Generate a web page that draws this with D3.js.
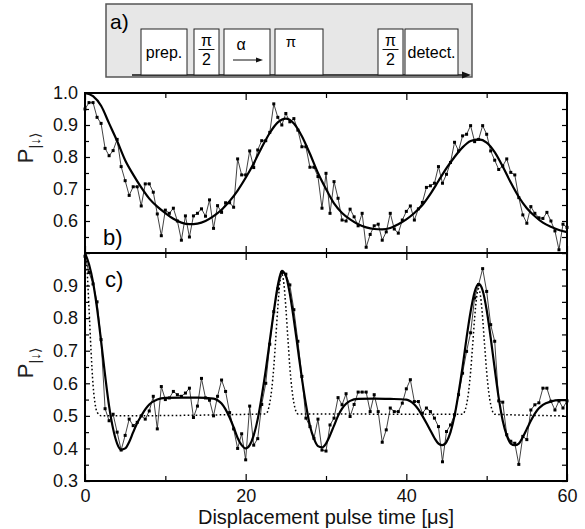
<!DOCTYPE html>
<html lang="en">
<head>
<meta charset="UTF-8">
<title>Displacement pulse scan</title>
<script src="https://d3js.org/d3.v7.min.js"></script>
<style>
  body { margin: 0; background: #fff; }
  svg { font-family: "Liberation Sans", Arial, sans-serif; }
  .tick text { font-size: 18px; fill: #111; }
  .tick line { stroke: #000; stroke-width: 1.2px; }
  .domain { display: none; }
</style>
</head>
<body>
<svg id="chart" width="585" height="529"></svg>
<script>
// sample times of the measured points (every 0.5 us)
const sampleTime = d3.range(0, 60.001, 0.5);

// panel b) measured P(down)
const dataB = [
  0.95, 0.97, 0.97, 0.924, 0.905, 0.827, 0.804, 0.82, 0.855, 0.77,
  0.726, 0.68, 0.707, 0.707, 0.647, 0.716, 0.716, 0.69, 0.622, 0.554,
  0.634, 0.624, 0.64, 0.60, 0.54, 0.616, 0.55, 0.616, 0.624, 0.638,
  0.615, 0.666, 0.577, 0.648, 0.627, 0.657, 0.657, 0.643, 0.794, 0.744,
  0.744, 0.819, 0.767, 0.822, 0.851, 0.851, 0.877, 0.966, 0.924, 0.90,
  0.936, 0.91, 0.92, 0.884, 0.832, 0.832, 0.768, 0.768, 0.739, 0.64,
  0.749, 0.624, 0.723, 0.671, 0.603, 0.60, 0.637, 0.613, 0.585, 0.624,
  0.518, 0.558, 0.585, 0.59, 0.54, 0.566, 0.624, 0.575, 0.562, 0.603,
  0.63, 0.647, 0.603, 0.638, 0.658, 0.705, 0.71, 0.718, 0.77, 0.718,
  0.746, 0.783, 0.846, 0.819, 0.866, 0.871, 0.898, 0.848, 0.855, 0.898,
  0.871, 0.819, 0.79, 0.761, 0.772, 0.794, 0.752, 0.744, 0.673, 0.619,
  0.593, 0.645, 0.624, 0.61, 0.608, 0.627, 0.60, 0.569, 0.51, 0.59,
  0.58
];

// panel b) fit, read every 1 us
const fitBTime = d3.range(0, 60.001, 1);
const fitB = [
  1.0, 0.99, 0.96, 0.905, 0.85, 0.79, 0.745, 0.705, 0.67, 0.645,
  0.625, 0.607, 0.595, 0.59, 0.592, 0.60, 0.615, 0.635, 0.662, 0.695,
  0.735, 0.78, 0.83, 0.875, 0.908, 0.92, 0.905, 0.865, 0.81, 0.75,
  0.70, 0.655, 0.625, 0.605, 0.59, 0.58, 0.575, 0.574, 0.578, 0.59,
  0.605, 0.625, 0.65, 0.685, 0.725, 0.765, 0.80, 0.83, 0.85, 0.855,
  0.845, 0.815, 0.77, 0.72, 0.675, 0.64, 0.615, 0.595, 0.582, 0.572,
  0.565
];

// panel c) measured P(down)
const dataC = [
  0.99, 0.94, 0.905, 0.85, 0.734, 0.522, 0.485, 0.505, 0.45, 0.395,
  0.44, 0.49, 0.47, 0.48, 0.50, 0.49, 0.515, 0.56, 0.46, 0.59,
  0.55, 0.555, 0.575, 0.565, 0.56, 0.57, 0.585, 0.495, 0.53, 0.615,
  0.555, 0.548, 0.50, 0.56, 0.61, 0.575, 0.51, 0.46, 0.40, 0.445,
  0.365, 0.53, 0.41, 0.43, 0.535, 0.60, 0.72, 0.82, 0.89, 0.94,
  0.935, 0.902, 0.826, 0.729, 0.621, 0.493, 0.467, 0.431, 0.49, 0.395,
  0.392, 0.472, 0.493, 0.556, 0.534, 0.568, 0.498, 0.535, 0.573, 0.573,
  0.573, 0.513, 0.565, 0.513, 0.419, 0.457, 0.524, 0.513, 0.513, 0.539,
  0.583, 0.611, 0.544, 0.544, 0.508, 0.524, 0.513, 0.493, 0.467, 0.359,
  0.452, 0.472, 0.503, 0.565, 0.631, 0.698, 0.755, 0.862, 0.903, 0.952,
  0.882, 0.78, 0.729, 0.546, 0.542, 0.442, 0.422, 0.416, 0.351, 0.437,
  0.427, 0.518, 0.534, 0.54, 0.585, 0.585, 0.545, 0.518, 0.546, 0.524,
  0.546
];

// panel c) fit (solid thick)
const fitCTime = [
  0, 0.5, 1, 1.5, 2, 2.5, 3, 3.5, 4, 4.5, 5, 5.5, 6, 6.5, 7, 7.5, 8, 9, 10, 12,
  14, 16, 16.5, 17, 17.5, 18, 18.5, 19, 19.5, 20, 20.5, 21, 21.5, 22, 22.5, 23,
  23.5, 24, 24.5, 25, 25.5, 26, 26.5, 27, 27.5, 28, 28.5, 29, 29.5, 30, 30.5, 31,
  31.5, 32, 32.5, 33, 34, 36, 38, 40, 40.5, 41, 41.5, 42, 42.5, 43, 43.5, 44,
  44.5, 45, 45.5, 46, 46.5, 47, 47.5, 48, 48.5, 49, 49.5, 50, 50.5, 51, 51.5,
  52, 52.5, 53, 53.5, 54, 54.5, 55, 55.5, 56, 56.5, 57, 58, 59, 60
];
const fitC = [
  1.0, 0.965, 0.91, 0.83, 0.73, 0.625, 0.53, 0.46, 0.415, 0.396, 0.40, 0.42, 0.45,
  0.478, 0.50, 0.52, 0.535, 0.55, 0.555, 0.556,
  0.556, 0.553, 0.548, 0.538, 0.52, 0.495, 0.465, 0.432, 0.41, 0.40, 0.41, 0.44,
  0.49, 0.56, 0.64, 0.73,
  0.82, 0.90, 0.945, 0.93, 0.875, 0.795, 0.705, 0.615, 0.535, 0.47, 0.43, 0.407,
  0.403, 0.415, 0.44, 0.47,
  0.50, 0.522, 0.537, 0.546, 0.552, 0.553, 0.552, 0.55, 0.545, 0.535, 0.52, 0.50,
  0.478, 0.455, 0.432, 0.415,
  0.41, 0.42, 0.45, 0.50, 0.57, 0.65, 0.74, 0.82, 0.88, 0.905, 0.885, 0.825, 0.74,
  0.645, 0.555,
  0.485, 0.44, 0.415, 0.41, 0.415, 0.435, 0.46, 0.485, 0.507, 0.523, 0.534, 0.544,
  0.548, 0.548
];

// panel c) dotted curve
const dotTime = [
  0, 0.25, 0.5, 0.75, 1.0, 1.25, 1.5, 2.0,
  22.5, 23.0, 23.25, 23.5, 23.75, 24.0, 24.25, 24.5, 24.75, 25.0, 25.25, 25.5, 25.75, 26.0, 26.5,
  47.0, 47.5, 47.75, 48.0, 48.25, 48.5, 48.75, 49.0, 49.25, 49.5, 49.75, 50.0, 50.25, 50.5, 51.0,
  60
];
const dotC = [
  1.0, 0.95, 0.83, 0.70, 0.596, 0.538, 0.512, 0.5,
  0.506, 0.54, 0.583, 0.65, 0.739, 0.833, 0.907, 0.935, 0.907, 0.833, 0.739, 0.65, 0.583, 0.54, 0.506,
  0.505, 0.535, 0.574, 0.635, 0.715, 0.80, 0.865, 0.89, 0.865, 0.80, 0.715, 0.635, 0.574, 0.535, 0.505,
  0.5
];

const xTicks = [0, 20, 40, 60];
const xMinor = [10, 30, 50];
const yTicksB = [0.6, 0.7, 0.8, 0.9, 1.0];
const yMinorB = [0.55, 0.65, 0.75, 0.85, 0.95];
const yTicksC = [0.3, 0.4, 0.5, 0.6, 0.7, 0.8, 0.9];
const yMinorC = [0.35, 0.45, 0.55, 0.65, 0.75, 0.85, 0.95];

const svg = d3.select('#chart');

const x = d3.scaleLinear().domain([0, 60]).range([85, 567]);
const yB = d3.scaleLinear().domain([0.5, 1.0]).range([253, 93]);
const yC = d3.scaleLinear().domain([0.3, 1.0]).range([481, 253]);

// ---------- a) pulse sequence sketch ----------
const seq = svg.append('g');
seq.append('rect')
  .attr('x', 106).attr('y', 4).attr('width', 366).attr('height', 73)
  .attr('fill', '#e7e7e7').attr('stroke', '#555').attr('stroke-width', 1.5);
seq.append('text').attr('x', 110).attr('y', 29)
  .attr('font-size', 21).text('a)');

seq.append('line')
  .attr('x1', 132).attr('x2', 466).attr('y1', 75).attr('y2', 75)
  .attr('stroke', '#111').attr('stroke-width', 1.3);
seq.append('path').attr('d', 'M471,75 L462,71.5 L462,78.5 Z').attr('fill', '#111');

const boxes = [
  { x0: 141, x1: 187 }, { x0: 194, x1: 219 }, { x0: 224, x1: 270 },
  { x0: 275, x1: 323 }, { x0: 378, x1: 403 }, { x0: 405, x1: 458 }
];
seq.selectAll('rect.pulse')
  .data(boxes).enter().append('rect')
  .attr('class', 'pulse')
  .attr('x', d => d.x0).attr('y', 29)
  .attr('width', d => d.x1 - d.x0).attr('height', 46)
  .attr('fill', '#fff').attr('stroke', '#222').attr('stroke-width', 1);

seq.append('text').attr('x', 164).attr('y', 58).attr('text-anchor', 'middle')
  .attr('font-size', 16).text('prep.');
seq.append('text').attr('x', 431.5).attr('y', 58).attr('text-anchor', 'middle')
  .attr('font-size', 16).text('detect.');
seq.append('text').attr('x', 291).attr('y', 47).attr('text-anchor', 'middle')
  .attr('font-size', 15).text('π');
seq.append('text').attr('x', 241).attr('y', 50).attr('text-anchor', 'middle')
  .attr('font-size', 16).text('α');
seq.append('line').attr('x1', 233).attr('x2', 259).attr('y1', 60).attr('y2', 60)
  .attr('stroke', '#111').attr('stroke-width', 1);
seq.append('path').attr('d', 'M263,60 L256,57.5 L256,62.5 Z').attr('fill', '#111');

[206.5, 390.5].forEach(cx => {
  seq.append('text').attr('x', cx).attr('y', 46).attr('text-anchor', 'middle')
    .attr('font-size', 16).text('π');
  seq.append('line').attr('x1', cx - 8).attr('x2', cx + 8).attr('y1', 49.5).attr('y2', 49.5)
    .attr('stroke', '#111').attr('stroke-width', 1);
  seq.append('text').attr('x', cx).attr('y', 65).attr('text-anchor', 'middle')
    .attr('font-size', 16).text('2');
});

// ---------- panels ----------
function drawFrame(y, yMajor, yMinor, yLabeled, xLabels) {
  const top = y.range()[1], bottom = y.range()[0];
  const g = svg.append('g');

  g.append('g').attr('transform', `translate(85,0)`)
    .call(d3.axisLeft(y).tickValues(yMajor).tickSize(-5).tickPadding(7)
      .tickFormat(d => yLabeled.includes(d) ? d3.format('.1f')(d) : ''));
  g.append('g').attr('transform', `translate(85,0)`)
    .call(d3.axisLeft(y).tickValues(yMinor).tickSize(-4).tickFormat(''));
  g.append('g').attr('transform', `translate(567,0)`)
    .call(d3.axisRight(y).tickValues(yMajor.concat(yMinor)).tickSize(-5).tickFormat(''));

  g.append('g').attr('transform', `translate(0,${bottom})`)
    .call(d3.axisBottom(x).tickValues(xTicks).tickSize(-7).tickPadding(8)
      .tickFormat(xLabels ? d3.format('d') : ''));
  g.append('g').attr('transform', `translate(0,${bottom})`)
    .call(d3.axisBottom(x).tickValues(xMinor).tickSize(-5).tickFormat(''));
  g.append('g').attr('transform', `translate(0,${top})`)
    .call(d3.axisTop(x).tickValues(xTicks).tickSize(-7).tickFormat(''));
  g.append('g').attr('transform', `translate(0,${top})`)
    .call(d3.axisTop(x).tickValues(xMinor).tickSize(-5).tickFormat(''));

  g.selectAll('.tick text').attr('font-family', null).attr('font-size', null);
  return g;
}

function drawData(y, values, fitT, fitV) {
  const g = svg.append('g');
  const pts = sampleTime.map((t, i) => [t, values[i]]);
  g.append('path')
    .attr('d', d3.line().x(d => x(d[0])).y(d => y(d[1]))(pts))
    .attr('fill', 'none').attr('stroke', '#111').attr('stroke-width', 0.8);
  g.selectAll('rect').data(pts).enter().append('rect')
    .attr('x', d => x(d[0]) - 1.5).attr('y', d => y(d[1]) - 1.5)
    .attr('width', 3).attr('height', 3).attr('fill', '#000');
  const fit = fitT.map((t, i) => [t, fitV[i]]);
  g.append('path')
    .attr('d', d3.line().curve(d3.curveMonotoneX).x(d => x(d[0])).y(d => y(d[1]))(fit))
    .attr('fill', 'none').attr('stroke', '#000').attr('stroke-width', 2.2);
  return g;
}

// panel c dotted curve drawn beneath
const dots = dotTime.map((t, i) => [t, dotC[i]]);
svg.append('path')
  .attr('d', d3.line().curve(d3.curveMonotoneX).x(d => x(d[0])).y(d => yC(d[1]))(dots))
  .attr('fill', 'none').attr('stroke', '#000').attr('stroke-width', 1.5)
  .attr('stroke-dasharray', '1.6,2.4');

drawData(yB, dataB, fitBTime, fitB);
drawData(yC, dataC, fitCTime, fitC);

drawFrame(yB, [0.5].concat(yTicksB), yMinorB, yTicksB, false);
drawFrame(yC, yTicksC.concat([1.0]), yMinorC, yTicksC, true);

// frames
[[93, 253], [253, 481]].forEach(([t, b]) => {
  svg.append('rect').attr('x', 85).attr('y', t).attr('width', 482).attr('height', b - t)
    .attr('fill', 'none').attr('stroke', '#000').attr('stroke-width', 2);
});

// panel tags
svg.append('text').attr('x', 103).attr('y', 245).attr('font-size', 22).text('b)');
svg.append('text').attr('x', 105).attr('y', 287).attr('font-size', 22).text('c)');

// y labels
function yLabel(cy) {
  const t = svg.append('text')
    .attr('transform', `translate(33,${cy}) rotate(-90)`)
    .attr('text-anchor', 'middle').attr('font-size', 22).attr('fill', '#222');
  t.append('tspan').text('P');
  t.append('tspan').attr('font-size', 14).attr('dy', 7).text('|↓⟩');
}
yLabel(148);
yLabel(363);

// x title
svg.append('text').attr('x', 326).attr('y', 524).attr('text-anchor', 'middle')
  .attr('font-size', 20).attr('fill', '#111').text('Displacement pulse time [μs]');
</script>
</body>
</html>
